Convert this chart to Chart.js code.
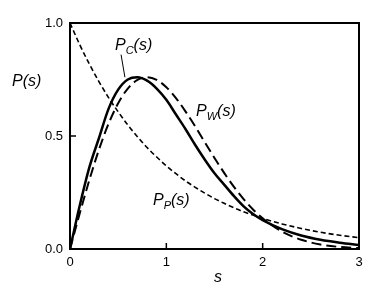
<!DOCTYPE html>
<html>
<head>
<meta charset="utf-8">
<script src="https://cdn.jsdelivr.net/npm/chart.js@4"></script>
<style>
  html, body { margin: 0; padding: 0; background: #fff; }
</style>
</head>
<body>
<canvas id="myChart" width="388" height="299"></canvas>
<script>
// spacing values s
var sValues = [0, 0.1, 0.2, 0.3, 0.4, 0.5, 0.6, 0.7, 0.8, 0.9, 1.0, 1.1, 1.2, 1.3, 1.4, 1.5, 1.6, 1.7, 1.8, 1.9, 2.0, 2.2, 2.4, 2.6, 2.8, 3.0];
// P_C(s), solid line
var pC = [0, 0.19, 0.36, 0.49, 0.62, 0.705, 0.75, 0.76, 0.745, 0.71, 0.66, 0.595, 0.53, 0.46, 0.395, 0.335, 0.285, 0.235, 0.19, 0.155, 0.128, 0.088, 0.06, 0.041, 0.028, 0.018];
// P_W(s), long dashes
var pW = [0, 0.156, 0.304, 0.439, 0.554, 0.645, 0.710, 0.748, 0.760, 0.748, 0.716, 0.668, 0.608, 0.542, 0.472, 0.403, 0.337, 0.276, 0.222, 0.175, 0.136, 0.077, 0.041, 0.020, 0.009, 0.004];
// P_P(s), short dashes
var pP = [1.0, 0.905, 0.819, 0.741, 0.670, 0.607, 0.549, 0.497, 0.449, 0.407, 0.368, 0.333, 0.301, 0.273, 0.247, 0.223, 0.202, 0.183, 0.165, 0.150, 0.135, 0.111, 0.091, 0.074, 0.061, 0.050];
var yTicks = [0, 0.5, 1.0];
var xTicks = [0, 1, 2, 3];

function pts(ys) {
  return sValues.map(function (s, i) { return { x: s, y: ys[i] }; });
}

var FONT = '"Liberation Sans", Arial, sans-serif';

// frame, inward ticks and text labels
var decor = {
  id: 'decor',
  afterDraw: function (chart) {
    var c = chart.ctx, a = chart.chartArea;
    var xs = chart.scales.x, ys = chart.scales.y;
    c.save();
    c.strokeStyle = '#000';
    c.lineWidth = 2;
    c.strokeRect(a.left, a.top, a.right - a.left, a.bottom - a.top);
    c.lineWidth = 1.5;
    xTicks.forEach(function (v) {
      var px = xs.getPixelForValue(v);
      c.beginPath(); c.moveTo(px, a.bottom); c.lineTo(px, a.bottom - 6); c.stroke();
    });
    yTicks.forEach(function (v) {
      var py = ys.getPixelForValue(v);
      c.beginPath(); c.moveTo(a.left, py); c.lineTo(a.left + 6, py); c.stroke();
    });

    c.fillStyle = '#000';
    c.textBaseline = 'alphabetic';
    function label(x, y, main, sub, rest) {
      c.font = 'italic 16px ' + FONT;
      c.fillText(main, x, y);
      var w = c.measureText(main).width;
      if (sub) {
        c.font = 'italic 11px ' + FONT;
        c.fillText(sub, x + w, y + 4);
        w += c.measureText(sub).width;
      }
      c.font = 'italic 16px ' + FONT;
      c.fillText(rest, x + w, y);
    }
    c.textAlign = 'left';
    label(12, 86, 'P', '', '(s)');
    label(115, 50, 'P', 'C', '(s)');
    label(196, 116, 'P', 'W', '(s)');
    label(153, 205, 'P', 'P', '(s)');
    c.font = 'italic 16px ' + FONT;
    c.textAlign = 'center';
    c.fillText('s', 218, 282);

    // leader line for P_C
    c.lineWidth = 1;
    c.beginPath();
    c.moveTo(xs.getPixelForValue(0.53), ys.getPixelForValue(0.86));
    c.lineTo(xs.getPixelForValue(0.57), ys.getPixelForValue(0.76));
    c.stroke();
    c.restore();
  }
};

var ctx = document.getElementById('myChart').getContext('2d');
var myChart = new Chart(ctx, {
  type: 'line',
  data: {
    datasets: [
      { label: 'P_P', data: pts(pP), borderColor: '#000', borderWidth: 1.6, borderDash: [5, 3], pointRadius: 0, cubicInterpolationMode: 'monotone', fill: false },
      { label: 'P_W', data: pts(pW), borderColor: '#000', borderWidth: 2, borderDash: [10, 5], pointRadius: 0, cubicInterpolationMode: 'monotone', fill: false },
      { label: 'P_C', data: pts(pC), borderColor: '#000', borderWidth: 2.5, pointRadius: 0, cubicInterpolationMode: 'monotone', fill: false }
    ]
  },
  options: {
    responsive: false,
    animation: false,
    layout: { padding: { top: 23, right: 29, left: 0, bottom: 0 } },
    plugins: { legend: { display: false }, tooltip: { enabled: false } },
    scales: {
      x: {
        type: 'linear', min: 0, max: 3,
        grid: { display: false, drawTicks: false },
        border: { display: false },
        afterFit: function (s) { s.height = 50; },
        afterBuildTicks: function (s) { s.ticks = xTicks.map(function (v) { return { value: v }; }); },
        ticks: { padding: 6, color: '#000', font: { size: 13, family: FONT }, maxRotation: 0 }
      },
      y: {
        min: 0, max: 1,
        grid: { display: false, drawTicks: false },
        border: { display: false },
        afterFit: function (s) { s.width = 70; },
        afterBuildTicks: function (s) { s.ticks = yTicks.map(function (v) { return { value: v }; }); },
        ticks: { padding: 7, color: '#000', font: { size: 13, family: FONT }, callback: function (v) { return v.toFixed(1); } }
      }
    }
  },
  plugins: [decor]
});
</script>
</body>
</html>
